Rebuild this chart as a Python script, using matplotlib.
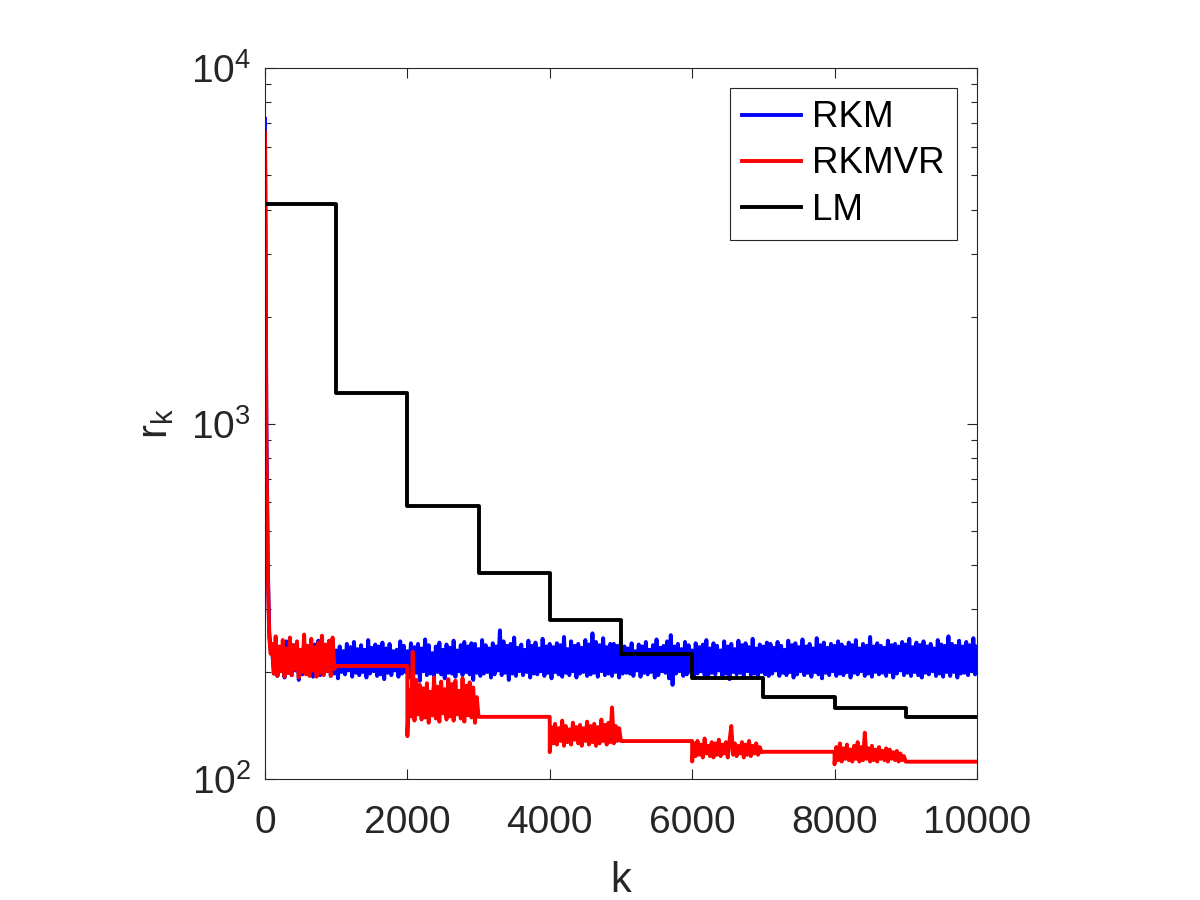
import numpy as np
import matplotlib
matplotlib.use("Agg")
import matplotlib.pyplot as plt
from matplotlib.ticker import LogLocator, NullFormatter, FixedLocator

plt.rcParams['font.family'] = ['Liberation Sans', 'DejaVu Sans']
plt.rcParams['mathtext.fontset'] = 'custom'
plt.rcParams['mathtext.rm'] = 'Liberation Sans'
plt.rcParams['mathtext.it'] = 'Liberation Sans:italic'

AX_COLOR = '#262626'

# ---- LM: one level per epoch of 1000 iterations
lm_edges = [0, 1000, 2000, 3000, 4000, 5000, 6000, 7000, 8000, 9000, 10000]
lm_levels = [4140, 1216, 586, 379, 280, 225, 192, 170, 158, 149]

# ---- RKM: initial drop, then noisy band sampled every 25 iterations from k=100
rkm_start_k = [0, 10, 20, 40, 60, 80]
rkm_start_v = [7200, 3000, 1000, 400, 260, 230]
rkm_noise = [
    232, 198, 240, 195, 228, 201, 236, 193, 244, 199, 230, 196, 238, 202, 234, 190, 229, 197, 241, 200,
    235, 198, 231, 194, 239, 203, 245, 196, 228, 199, 237, 201, 233, 195, 242, 198, 230, 192, 236, 200,
    229, 197, 240, 202, 235, 194, 243, 199, 232, 196, 238, 200, 231, 193, 246, 198, 234, 201, 239, 195,
    236, 197, 242, 191, 233, 199, 240, 196, 229, 202, 231, 194, 244, 198, 237, 200, 229, 193, 241, 197,
    235, 199, 240, 189, 233, 201, 247, 196, 238, 198, 226, 195, 236, 200, 242, 197, 231, 192, 239, 199,
    234, 198, 245, 194, 230, 201, 238, 196, 243, 200, 236, 197, 241, 190, 240, 199, 232, 195, 246, 198,
    238, 200, 233, 193, 241, 197, 236, 202, 262, 196, 244, 199, 237, 190, 240, 198, 250, 195, 234, 201,
    239, 196, 231, 200, 245, 193, 237, 198, 242, 197, 233, 201, 248, 195, 236, 199, 240, 192, 235, 200,
    241, 197, 238, 194, 251, 199, 232, 196, 244, 201, 237, 193, 240, 198, 234, 200, 246, 195, 239, 197,
    257, 199, 243, 194, 238, 201, 249, 196, 235, 198, 240, 195, 240, 200, 237, 193, 245, 198, 236, 199,
    233, 198, 241, 195, 229, 202, 239, 194, 236, 199, 243, 197, 231, 200, 238, 193, 247, 196, 234, 201,
    237, 199, 244, 192, 254, 184, 236, 198, 240, 201, 232, 195, 243, 197, 238, 200, 230, 194, 241, 198,
    235, 201, 239, 196, 246, 193, 233, 199, 241, 197, 237, 202, 230, 195, 244, 198, 236, 191, 240, 200,
    232, 197, 245, 199, 238, 194, 241, 201, 235, 196, 248, 198, 233, 193, 239, 200, 236, 197, 242, 195,
    240, 198, 234, 202, 243, 195, 237, 199, 231, 196, 245, 200, 238, 193, 241, 197, 235, 201, 247, 196,
    236, 199, 240, 194, 233, 200, 249, 197, 238, 192, 242, 199, 234, 196, 240, 201, 237, 195, 244, 198,
    239, 196, 235, 200, 242, 193, 238, 199, 246, 197, 233, 201, 240, 195, 237, 198, 251, 194, 236, 200,
    241, 197, 237, 199, 234, 195, 245, 200, 238, 193, 240, 198, 236, 202, 243, 196, 239, 199, 248, 195,
    235, 200, 242, 196, 238, 193, 244, 199, 236, 197, 240, 201, 233, 195, 246, 198, 239, 194, 237, 200,
    252, 195, 240, 200, 237, 193, 245, 198, 236, 199, 243, 196, 238, 201, 249, 197, 236,
]
RKM_STEP = 25

# ---- RKMVR: noisy odd epochs (sampled every 25 iterations), flat even epochs
rkmvr_start_k = [0, 10, 20, 40, 60, 80]
rkmvr_start_v = [6600, 2800, 900, 380, 250, 225]
rkmvr_noise_1 = [  # k = 100 .. 975
    240, 198, 252, 195, 236, 201, 246, 194, 233, 199,
    250, 196, 238, 203, 244, 193, 231, 200, 255, 197,
    237, 195, 248, 202, 235, 194, 242, 199, 253, 196,
    239, 201, 245, 195, 250, 204,
]
rkmvr_noise_2 = [  # k = 2000 .. 2975
    132, 178, 150, 228, 146, 190, 152, 184, 147, 180,
    149, 186, 144, 176, 151, 193, 148, 182, 145, 188,
    153, 179, 147, 191, 150, 185, 146, 189, 152, 177,
    148, 192, 145, 183, 151, 187, 149, 181, 144, 170,
]
rkmvr_noise_3 = [  # k = 4000 .. 4975
    119, 140, 126, 143, 125, 139, 128, 146, 124, 141,
    127, 138, 125, 144, 129, 140, 126, 142, 124, 139,
    128, 145, 125, 141, 127, 143, 124, 140, 126, 147,
    128, 142, 125, 144, 127, 159, 126, 141, 128, 139,
]
rkmvr_noise_4 = [  # k = 6000 .. 6975
    112, 126, 116, 128, 117, 125, 115, 130, 118, 124,
    116, 127, 115, 126, 117, 129, 116, 125, 118, 127,
    115, 128, 141, 117, 126, 116, 124, 118, 127, 115,
    125, 117, 128, 116, 124, 118, 126, 117, 123, 119,
]
rkmvr_noise_5 = [  # k = 8000 .. 8975
    110, 123, 113, 126, 112, 122, 114, 125, 113, 121,
    112, 124, 114, 127, 112, 123, 113, 135, 114, 122,
    112, 124, 113, 121, 112, 123, 114, 120, 113, 122,
    112, 121, 114, 119, 113, 120, 112, 118, 113, 116,
]
rkmvr_flat = [208, 149.6, 127.9, 119.3, 111.9]  # epochs 1000-2000, 3000-4000, ...
RKMVR_STEP = 25

# assemble RKM
rkm_k = np.concatenate([rkm_start_k, 100 + RKM_STEP * np.arange(len(rkm_noise))])
rkm_v = np.concatenate([rkm_start_v, rkm_noise])

# assemble RKMVR
noisy = [rkmvr_noise_1, rkmvr_noise_2, rkmvr_noise_3, rkmvr_noise_4, rkmvr_noise_5]
noisy_start = [100, 2000, 4000, 6000, 8000]
rk_k = list(rkmvr_start_k)
rk_v = list(rkmvr_start_v)
for i, seg in enumerate(noisy):
    rk_k += list(noisy_start[i] + RKMVR_STEP * np.arange(len(seg)))
    rk_v += seg
    e0 = 2000 * i + 1000
    rk_k += [e0, e0 + 1000]
    rk_v += [rkmvr_flat[i], rkmvr_flat[i]]

fig = plt.figure(figsize=(12, 9), dpi=100)
ax = fig.add_axes([0.2208, 0.1344, 0.5933, 0.79])

lw = 2.8
ax.plot(rkm_k, rkm_v, color='#0000ff', lw=lw, label='RKM')
ax.plot(rk_k, rk_v, color='#ff0000', lw=lw, label='RKMVR')
ax.plot(lm_edges, lm_levels + [lm_levels[-1]], color='black', lw=lw,
        drawstyle='steps-post', label='LM')

ax.set_yscale('log')
ax.set_xlim(0, 10000)
ax.set_ylim(100, 10000)
ax.xaxis.set_major_locator(FixedLocator([0, 2000, 4000, 6000, 8000, 10000]))
ax.yaxis.set_minor_locator(LogLocator(base=10, subs=np.arange(2, 10)))
ax.yaxis.set_minor_formatter(NullFormatter())

for s in ax.spines.values():
    s.set_color(AX_COLOR)
    s.set_linewidth(0.8)
ax.tick_params(which='both', direction='in', top=True, right=True,
               colors=AX_COLOR, width=0.8, labelsize=28)
ax.tick_params(which='major', length=7)
ax.tick_params(which='minor', length=4)
ax.tick_params(axis='x', which='major', pad=19)
ax.tick_params(axis='y', which='major', pad=10)

ax.set_xlabel('k', fontsize=30, color=AX_COLOR, labelpad=14)
ax.set_ylabel(r'$\mathregular{r_k}$', fontsize=30, color=AX_COLOR, labelpad=11)

leg = ax.legend(loc='upper right', fontsize=26.5, frameon=True, fancybox=False,
                framealpha=1, edgecolor=AX_COLOR, borderaxespad=0.55,
                handlelength=1.6, labelspacing=0.3, handletextpad=0.3,
                borderpad=0.33)
leg.get_frame().set_linewidth(0.8)
for t in leg.get_texts():
    t.set_color('black')

fig.savefig('out.png', dpi=100, facecolor='white')
